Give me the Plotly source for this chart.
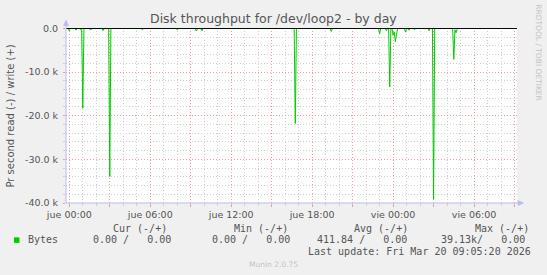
import plotly.graph_objects as go

# ---- data ----
read_minutes = [-15, -5, 0, 5, 25, 30, 35, 45, 50, 55, 60, 65, 90, 95, 100,
                145, 150, 155, 175, 180, 185, 320, 325, 330, 475, 480, 485,
                560, 565, 570, 585, 590, 595, 1000, 1005, 1010, 1160, 1165, 1170,
                1375, 1380, 1385, 1405, 1410, 1415, 1420, 1425, 1430, 1435, 1440,
                1445, 1450, 1455, 1460, 1490, 1495, 1500, 1505, 1510, 1515, 1530,
                1535, 1540, 1595, 1600, 1605, 1615, 1620, 1625, 1705, 1710, 1715,
                1720, 1725, 1985]
read_bytes = [0, 0, -550, 0, 0, -400, 0, 0, -300, 0, -18300, 0, 0, -400, 0,
              0, -500, 0, 0, -33900, 0, 0, -300, 0, 0, -300, 0,
              0, -600, 0, 0, -500, 0, 0, -21800, 0, 0, -700, 0,
              0, -1200, 0, 0, -500, 0, 0, -13400, -200, 0, -1600,
              -800, -3000, -1500, 0, 0, -850, 0, 0, -400, 0, 0,
              -300, 0, 0, -500, 0, 0, -39130, 0, 0, -7100, -300,
              -1000, 0, 0]

x_tick_vals = [0, 180, 360, 540, 720, 900, 1080, 1260, 1440, 1620, 1800, 1980]
x_tick_text = ["jue 00:00", "", "jue 06:00", "", "jue 12:00", "", "jue 18:00", "",
               "vie 00:00", "", "vie 06:00", ""]
y_tick_vals = [0, -10000, -20000, -30000, -40000]
y_tick_text = ["0.0", "-10.0 k", "-20.0 k", "-30.0 k", "-40.0 k"]

legend_headers = ["Cur (-/+)", "Min (-/+)", "Avg (-/+)", "Max (-/+)"]
legend_label = "Bytes"
legend_values = ["0.00 /   0.00", "0.00 /   0.00", "411.84 /   0.00", "39.13k/   0.00"]
last_update = "Last update: Fri Mar 20 09:05:20 2026"

# ---- geometry ----
W, H = 547, 275
L, R, T, B = 66, 516.7, 28, 202.7


def px(x):
    return (x - L) / (R - L)


def py(y):
    return (B - y) / (B - T)


GREEN = "#00cc00"
AXIS = "#b8bcee"
MAJOR = "#eaa0a0"
MINOR = "#cfcfcf"
TXT = "#555555"
SANS = "DejaVu Sans"
MONO = "DejaVu Sans Mono"

fig = go.Figure()
fig.add_trace(go.Scatter(x=read_minutes, y=read_bytes, mode="lines",
                         line=dict(color=GREEN, width=1), hoverinfo="skip",
                         showlegend=False))

fig.update_layout(
    width=W, height=H,
    margin=dict(l=L, r=W - R, t=T, b=H - B, pad=0),
    paper_bgcolor="#f0f0f0", plot_bgcolor="#ffffff",
    showlegend=False,
    xaxis=dict(range=[-14.7, 1991], tickmode="array", tickvals=x_tick_vals,
               ticktext=x_tick_text, showgrid=True, gridcolor=MAJOR,
               griddash="1px,2px", gridwidth=1, zeroline=False, showline=False,
               ticks="outside", ticklen=3, tickcolor=MAJOR, tickwidth=1,
               tickfont=dict(family=SANS, size=9.5, color=TXT),
               minor=dict(dtick=60, tick0=0, showgrid=True, gridcolor=MINOR,
                          griddash="1px,2px", gridwidth=1, ticks="outside",
                          ticklen=2, tickcolor=MINOR)),
    yaxis=dict(range=[-40000, 100], tickmode="array", tickvals=y_tick_vals,
               ticktext=y_tick_text, showgrid=True, gridcolor=MAJOR,
               griddash="1px,2px", gridwidth=1, zeroline=False, showline=False,
               ticks="outside", ticklen=2, tickcolor=MAJOR, tickwidth=1,
               ticklabelstandoff=3,
               tickfont=dict(family=SANS, size=9.5, color=TXT),
               minor=dict(dtick=2000, tick0=0, showgrid=True, gridcolor=MINOR,
                          griddash="1px,2px", gridwidth=1, ticks="outside",
                          ticklen=2, tickcolor=MINOR)),
)

shapes = []
# zero rule drawn above the data, as in the reference
shapes.append(dict(type="line", xref="paper", yref="y", x0=0, x1=1, y0=0, y1=0,
                   layer="above", line=dict(color="#000000", width=1)))
# axis lines with arrows
shapes.append(dict(type="line", xref="paper", yref="paper", x0=px(66), x1=px(66),
                   y0=py(B), y1=py(24), line=dict(color=AXIS, width=1)))
shapes.append(dict(type="line", xref="paper", yref="paper", x0=px(66), x1=px(519),
                   y0=py(B), y1=py(B), line=dict(color=AXIS, width=1)))
shapes.append(dict(type="path", xref="paper", yref="paper",
                   path=f"M {px(66)} {py(19.5)} L {px(63)} {py(26)} L {px(69)} {py(26)} Z",
                   fillcolor=AXIS, line=dict(width=0)))
shapes.append(dict(type="path", xref="paper", yref="paper",
                   path=f"M {px(524)} {py(B)} L {px(517.5)} {py(B-3)} L {px(517.5)} {py(B+3)} Z",
                   fillcolor=AXIS, line=dict(width=0)))
# legend swatch
shapes.append(dict(type="rect", xref="paper", yref="paper", x0=px(14), x1=px(19.5),
                   y0=py(242.5), y1=py(237), fillcolor=GREEN, line=dict(width=0)))
fig.update_layout(shapes=shapes)

ann = []
ann.append(dict(text="Disk throughput for /dev/loop2 - by day", x=px(273), y=py(19),
                xanchor="center", yanchor="middle",
                font=dict(family=SANS, size=12.5, color=TXT)))
ann.append(dict(text="Pr second read (-) / write (+)", x=px(11), y=py(115.5),
                textangle=-90, xanchor="center", yanchor="middle",
                font=dict(family=SANS, size=10, color=TXT)))
ann.append(dict(text="RRDTOOL / TOBI OETIKER", x=px(538.5), y=py(53),
                textangle=90, xanchor="center", yanchor="middle",
                font=dict(family=SANS, size=7.5, color="#c4c4c4")))
header_x = [111, 231.7, 352.3, 473]
for hx, h in zip(header_x, legend_headers):
    ann.append(dict(text=h, x=px(hx), y=py(227.7), xanchor="left", yanchor="middle",
                    font=dict(family=MONO, size=10, color=TXT)))
ann.append(dict(text=legend_label, x=px(26.5), y=py(239.5), xanchor="left",
                yanchor="middle", font=dict(family=MONO, size=10, color=TXT)))
value_x = [173, 292, 409, 527]
for vx, v in zip(value_x, legend_values):
    ann.append(dict(text=v.replace(" ", "&nbsp;"), x=px(vx), y=py(239.5), xanchor="right",
                    yanchor="middle", font=dict(family=MONO, size=10, color=TXT)))
ann.append(dict(text=last_update.replace(" ", "&nbsp;"), x=px(532.5), y=py(251.2),
                xanchor="right", yanchor="middle",
                font=dict(family=MONO, size=10, color=TXT)))
ann.append(dict(text="Munin 2.0.75", x=px(273), y=py(264), xanchor="center",
                yanchor="middle", font=dict(family=SANS, size=7.5, color="#c4c4c4")))
for a in ann:
    a.update(xref="paper", yref="paper", showarrow=False)
fig.update_layout(annotations=ann)

fig.write_html("out.html")
